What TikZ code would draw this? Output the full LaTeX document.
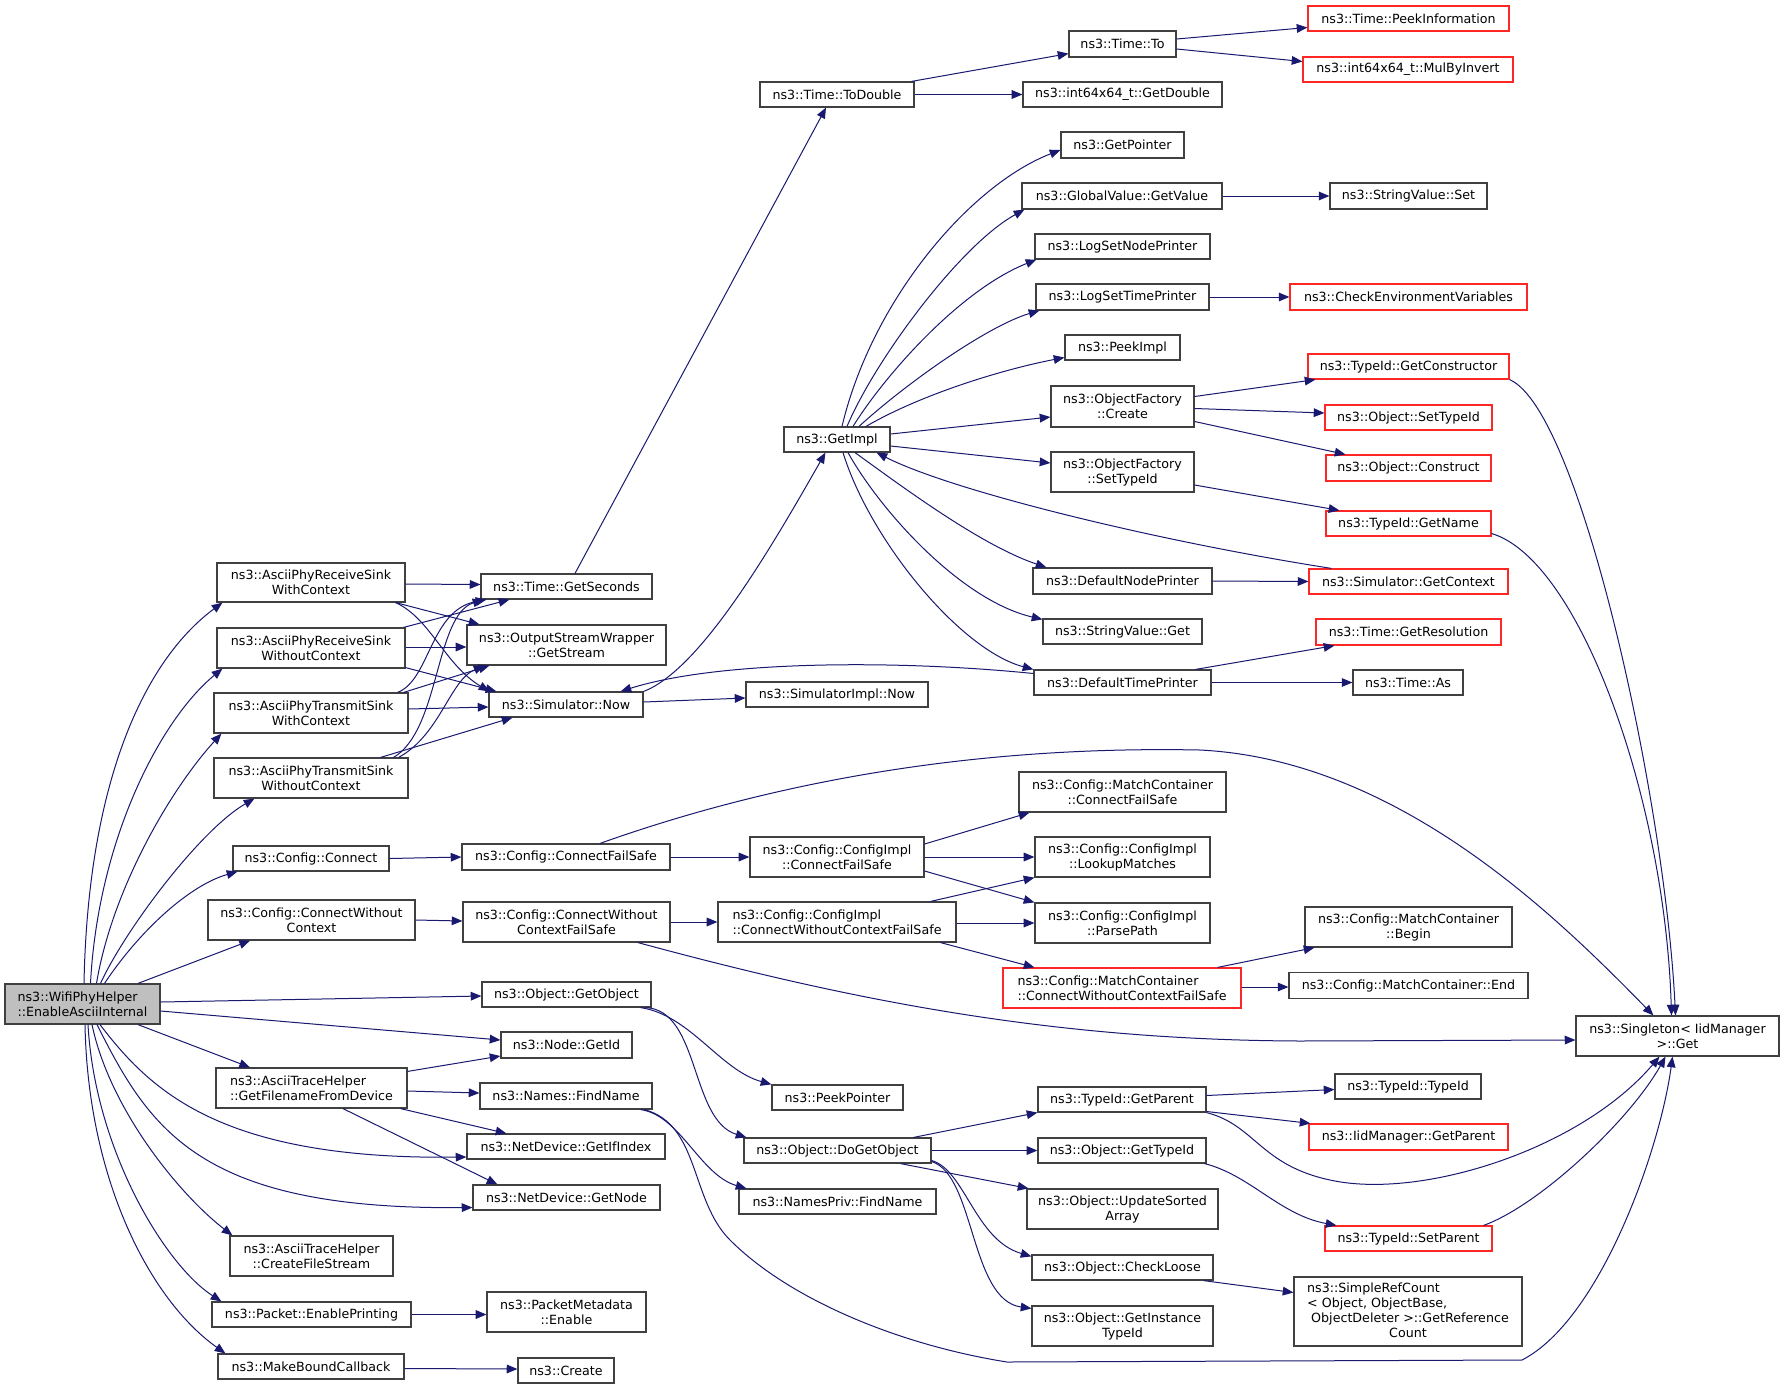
\documentclass[tikz,border=0pt]{standalone}
\usepackage{fontspec}
\setmainfont{DejaVu Sans}
\usetikzlibrary{arrows.meta,calc}
\definecolor{edgec}{HTML}{191970}
\definecolor{nodeb}{HTML}{404040}
\definecolor{rootf}{HTML}{BFBFBF}
\definecolor{redb}{HTML}{FF2626}
\tikzset{
 nbox/.style={draw=nodeb, line width=0.9pt, fill=white, inner sep=0pt, align=center, font=\fontsize{9.5pt}{11.25pt}\selectfont, text=black},
 rbox/.style={draw=redb},
 rootbox/.style={fill=rootf},
 lbox/.style={align=left},
 call/.style={draw=edgec, line width=0.75pt, -{Triangle[length=8pt,width=6.5pt]}},
}
\newcommand\gnode[7][]{\node[nbox,#1,minimum width=#5*0.75pt,minimum height=#6*0.75pt] (#2) at (#3,#4) {#7};}
\begin{document}
\begin{tikzpicture}[x=0.75pt,y=-0.75pt]
\useasboundingbox (0,0) rectangle (1784,1389);
\fill[white] (0,0) rectangle (1784,1389);
% column 1
\gnode[rootbox,lbox]{wifi}{82.5}{1004}{155}{40}{ns3::WifiPhyHelper\\::EnableAsciiInternal}
\gnode{rxwith}{311}{582.5}{188}{39}{ns3::AsciiPhyReceiveSink\\WithContext}
\gnode{rxwo}{311}{648}{188}{40}{ns3::AsciiPhyReceiveSink\\WithoutContext}
\gnode{txwith}{311}{713}{194}{40}{ns3::AsciiPhyTransmitSink\\WithContext}
\gnode{txwo}{311}{778}{194}{40}{ns3::AsciiPhyTransmitSink\\WithoutContext}
\gnode{cconnect}{311}{858.5}{156}{25}{ns3::Config::Connect}
\gnode{cconnectwo}{311.5}{920}{207}{40}{ns3::Config::ConnectWithout\\Context}
\gnode[lbox]{getfilename}{311.5}{1088}{191}{40}{ns3::AsciiTraceHelper\\::GetFilenameFromDevice}
\gnode{createfile}{311.5}{1256}{163}{40}{ns3::AsciiTraceHelper\\::CreateFileStream}
\gnode{enableprint}{311.5}{1314.5}{199}{25}{ns3::Packet::EnablePrinting}
\gnode{makebound}{311}{1366.5}{186}{25}{ns3::MakeBoundCallback}
% column 2
\gnode{getseconds}{566.5}{586.5}{171}{25}{ns3::Time::GetSeconds}
\gnode{getstream}{566.5}{645}{199}{40}{ns3::OutputStreamWrapper\\::GetStream}
\gnode{simnow}{566}{704.5}{154}{25}{ns3::Simulator::Now}
\gnode{connectfs}{566}{857}{208}{26}{ns3::Config::ConnectFailSafe}
\gnode{connectwofs}{566.5}{922}{207}{40}{ns3::Config::ConnectWithout\\ContextFailSafe}
\gnode{getobject}{566.5}{994.5}{169}{25}{ns3::Object::GetObject}
\gnode{nodegetid}{566.5}{1045}{131}{26}{ns3::Node::GetId}
\gnode{namesfind}{566}{1096}{172}{26}{ns3::Names::FindName}
\gnode{getifindex}{566}{1146.5}{198}{25}{ns3::NetDevice::GetIfIndex}
\gnode{getnode}{566.5}{1197.5}{187}{25}{ns3::NetDevice::GetNode}
\gnode{pmenable}{566.5}{1312}{159}{40}{ns3::PacketMetadata\\::Enable}
\gnode{create}{566}{1370.5}{96}{25}{ns3::Create}
% column 3
\gnode{todouble}{837}{94.5}{154}{25}{ns3::Time::ToDouble}
\gnode{getimpl}{837}{439.5}{106}{25}{ns3::GetImpl}
\gnode{simimplnow}{837}{694.5}{182}{25}{ns3::SimulatorImpl::Now}
\gnode{cicfs}{837}{857}{174}{40}{ns3::Config::ConfigImpl\\::ConnectFailSafe}
\gnode[lbox]{cicwofs}{837}{922}{238}{40}{ns3::Config::ConfigImpl\\::ConnectWithoutContextFailSafe}
\gnode{peekpointer}{837.5}{1097.5}{131}{25}{ns3::PeekPointer}
\gnode{dogetobject}{837.5}{1150.5}{187}{25}{ns3::Object::DoGetObject}
\gnode{namesprivfind}{837.5}{1201.5}{197}{25}{ns3::NamesPriv::FindName}
% column 4
\gnode{timeto}{1122.5}{44}{107}{26}{ns3::Time::To}
\gnode{getdouble}{1122.5}{94.5}{199}{25}{ns3::int64x64\_t::GetDouble}
\gnode{getpointer}{1122.5}{145}{123}{26}{ns3::GetPointer}
\gnode{gvgetvalue}{1122}{196}{200}{26}{ns3::GlobalValue::GetValue}
\gnode{logsetnode}{1122.5}{246.5}{175}{25}{ns3::LogSetNodePrinter}
\gnode{logsettime}{1122.5}{297}{173}{26}{ns3::LogSetTimePrinter}
\gnode{peekimpl}{1122.5}{347.5}{115}{25}{ns3::PeekImpl}
\gnode{ofcreate}{1122.5}{406.5}{143}{41}{ns3::ObjectFactory\\::Create}
\gnode{ofsettypeid}{1122.5}{472}{143}{40}{ns3::ObjectFactory\\::SetTypeId}
\gnode{defnodeprinter}{1122.5}{581}{179}{26}{ns3::DefaultNodePrinter}
\gnode{svget}{1122.5}{631.5}{159}{25}{ns3::StringValue::Get}
\gnode{deftimeprinter}{1122.5}{682.5}{177}{25}{ns3::DefaultTimePrinter}
\gnode{mccfs}{1122.5}{792}{207}{40}{ns3::Config::MatchContainer\\::ConnectFailSafe}
\gnode{lookup}{1122.5}{857}{175}{40}{ns3::Config::ConfigImpl\\::LookupMatches}
\gnode{parsepath}{1122.5}{923}{175}{40}{ns3::Config::ConfigImpl\\::ParsePath}
\gnode[rbox,lbox]{mccwofs}{1122}{988}{238}{40}{ns3::Config::MatchContainer\\::ConnectWithoutContextFailSafe}
\gnode{typeidgetparent}{1122}{1099.5}{168}{25}{ns3::TypeId::GetParent}
\gnode{objgettypeid}{1122}{1150.5}{168}{25}{ns3::Object::GetTypeId}
\gnode{updatesorted}{1122.5}{1209}{191}{40}{ns3::Object::UpdateSorted\\Array}
\gnode{checkloose}{1122.5}{1267.5}{181}{25}{ns3::Object::CheckLoose}
\gnode{getinstance}{1122.5}{1326}{181}{40}{ns3::Object::GetInstance\\TypeId}
% column 5
\gnode[rbox]{peekinfo}{1408.5}{18.5}{201}{25}{ns3::Time::PeekInformation}
\gnode[rbox]{mulbyinvert}{1408}{69.5}{210}{25}{ns3::int64x64\_t::MulByInvert}
\gnode{svset}{1408.5}{196}{157}{26}{ns3::StringValue::Set}
\gnode[rbox]{checkenv}{1408.5}{297}{237}{26}{ns3::CheckEnvironmentVariables}
\gnode[rbox]{getconstructor}{1408.5}{366.5}{201}{25}{ns3::TypeId::GetConstructor}
\gnode[rbox]{objsettypeid}{1408.5}{417.5}{167}{25}{ns3::Object::SetTypeId}
\gnode[rbox]{objconstruct}{1408.5}{468}{165}{26}{ns3::Object::Construct}
\gnode[rbox]{getname}{1408.5}{523.5}{165}{25}{ns3::TypeId::GetName}
\gnode[rbox]{getcontext}{1408.5}{581.5}{199}{25}{ns3::Simulator::GetContext}
\gnode[rbox]{getresolution}{1408.5}{632}{185}{26}{ns3::Time::GetResolution}
\gnode{timeas}{1408}{682.5}{110}{25}{ns3::Time::As}
\gnode{mcbegin}{1408.5}{927}{207}{40}{ns3::Config::MatchContainer\\::Begin}
\gnode{mcend}{1408.5}{985.5}{239}{26}{ns3::Config::MatchContainer::End}
\gnode{typeidtypeid}{1408}{1086.5}{146}{25}{ns3::TypeId::TypeId}
\gnode[rbox]{iidgetparent}{1408.5}{1137}{199}{26}{ns3::IidManager::GetParent}
\gnode[rbox]{setparent}{1408.5}{1238.5}{167}{25}{ns3::TypeId::SetParent}
\gnode{simplerefcount}{1408}{1311.5}{228}{69}{\begin{tabular}{@{}l@{}}ns3::SimpleRefCount\\< Object, ObjectBase,\\\ ObjectDeleter >::GetReference\\\multicolumn{1}{@{}c@{}}{Count}\end{tabular}}
% column 6
\gnode{singleton}{1677.5}{1036}{203}{40}{ns3::Singleton< IidManager\\>::Get}
% ---------------- edges from wifi
\draw[call] ($(wifi.north)+(1.5,0)$) .. controls (88,780) and (145,660) .. ($(rxwith.south west)+(6,0)$);
\draw[call] ($(wifi.north)+(8,0)$) .. controls (98,840) and (160,720) .. ($(rxwo.south west)+(6,0)$);
\draw[call] ($(wifi.north)+(14,0)$) .. controls (112,890) and (170,790) .. ($(txwith.south west)+(8,0)$);
\draw[call] ($(wifi.north)+(18,0)$) .. controls (125,930) and (200,830) .. ($(txwo.south west)+(41,0)$);
\draw[call] ($(wifi.north)+(22,0)$) .. controls (140,930) and (190,885) .. ($(cconnect.south west)+(5,0)$);
\draw[call] ($(wifi.north)+(55.5,0)$) -- ($(cconnectwo.south)+(-61.5,0)$);
\draw[call] ($(wifi.east)+(0,-2)$) -- ($(getobject.west)+(0,1.5)$);
\draw[call] ($(wifi.east)+(0,7)$) -- ($(nodegetid.west)+(0,-5)$);
\draw[call] ($(wifi.south)+(55.5,0)$) -- ($(getfilename.north)+(-61.5,0)$);
\draw[call] ($(wifi.south)+(17.5,0)$) .. controls (150,1090) and (220,1160) .. ($(getifindex.west)+(0,10.5)$);
\draw[call] ($(wifi.south)+(14.5,0)$) .. controls (150,1130) and (200,1210) .. ($(getnode.west)+(0,10)$);
\draw[call] ($(wifi.south)+(9.5,0)$) .. controls (110,1110) and (180,1195) .. ($(createfile.north west)+(3,0)$);
\draw[call] ($(wifi.south)+(5.5,0)$) .. controls (95,1150) and (165,1265) .. ($(enableprint.north west)+(10,0)$);
\draw[call] ($(wifi.south)+(2.5,0)$) .. controls (88,1180) and (150,1300) .. ($(makebound.north west)+(8,0)$);
% ---------------- sinks
\draw[call] ($(rxwith.east)+(0,1.5)$) -- ($(getseconds.west)+(0,-2)$);
\draw[call] ($(rxwith.south east)+(-10,0)$) -- ($(getstream.north west)+(13,0)$);
\draw[call] ($(rxwith.south east)+(-10,0)$) .. controls (430,618) and (445,665) .. ($(simnow.north west)+(1,0)$);
\draw[call] ($(rxwo.north east)+(-2,0)$) -- ($(getseconds.south west)+(29,0)$);
\draw[call] ($(rxwo.east)+(0,-1)$) -- ($(getstream.west)+(0,2)$);
\draw[call] ($(rxwo.south east)+(0,-1)$) -- ($(simnow.north west)+(8,0)$);
\draw[call] ($(txwith.north east)+(-11,0)$) .. controls (430,680) and (430,610) .. ($(getseconds.south west)+(6,0)$);
\draw[call] ($(txwith.north east)+(-5,0)$) -- ($(getstream.south west)+(23,0)$);
\draw[call] ($(txwith.east)+(0,-4)$) -- ($(simnow.west)+(0,2.5)$);
\draw[call] ($(txwo.north east)+(-28,0)$) -- ($(simnow.south west)+(24,0)$);
\draw[call] ($(txwo.north east)+(-15,0)$) .. controls (440,730) and (435,615) .. ($(getseconds.south west)+(3,0)$);
\draw[call] ($(txwo.north east)+(-10,0)$) .. controls (440,735) and (450,680) .. ($(getstream.south west)+(18,0)$);
% ---------------- simulator
\draw[call] ($(simnow.east)+(0,-2.5)$) -- ($(simimplnow.west)+(0,3.5)$);
\draw[call] (simnow.north east) .. controls (700,670) and (770,550) .. ($(getimpl.south west)+(42,0)$);
\draw[call] ($(deftimeprinter.west)+(0,-9)$) .. controls (900,660) and (720,660) .. ($(simnow.north east)+(-23,0)$);
\draw[call] ($(getseconds.north)+(8.5,0)$) -- ($(todouble.south)+(-11,0)$);
\draw[call] ($(todouble.north east)+(-3,0)$) -- ($(timeto.south west)+(0,-4)$);
\draw[call] (todouble.east) -- (getdouble.west);
\draw[call] ($(timeto.east)+(0,-5)$) -- ($(peekinfo.west)+(0,9)$);
\draw[call] ($(timeto.east)+(0,5)$) -- ($(mulbyinvert.west)+(0,-8)$);
% ---------------- getimpl
\draw[call] ($(getimpl.north)+(5,0)$) .. controls (872,300) and (970,185) .. ($(getpointer.west)+(0,5)$);
\draw[call] ($(getimpl.north)+(10,0)$) .. controls (875,360) and (960,245) .. ($(gvgetvalue.south west)+(3,0)$);
\draw[call] ($(getimpl.north)+(16,0)$) .. controls (885,375) and (960,290) .. ($(logsetnode.south west)+(2,0)$);
\draw[call] ($(getimpl.north)+(22,0)$) .. controls (910,380) and (990,325) .. ($(logsettime.south west)+(4,0)$);
\draw[call] ($(getimpl.north)+(29,0)$) .. controls (920,395) and (1000,370) .. ($(peekimpl.west)+(0,10)$);
\draw[call] ($(getimpl.east)+(0,-5.5)$) -- ($(ofcreate.west)+(0,10.5)$);
\draw[call] ($(getimpl.east)+(0,6.5)$) -- ($(ofsettypeid.west)+(0,-9)$);
\draw[call] ($(getimpl.south)+(18,0)$) .. controls (900,485) and (980,545) .. ($(defnodeprinter.north west)+(14,0)$);
\draw[call] ($(getimpl.south)+(11,0)$) .. controls (880,510) and (960,600) .. ($(svget.north west)+(0,1)$);
\draw[call] ($(getimpl.south)+(6,0)$) .. controls (870,540) and (960,650) .. (deftimeprinter.north west);
\draw[call] ($(getcontext.north west)+(23,0)$) .. controls (1150,540) and (950,490) .. ($(getimpl.south east)+(-14,0)$);
\draw[call] (defnodeprinter.east) -- (getcontext.west);
\draw[call] ($(deftimeprinter.north east)+(-16,0)$) -- ($(getresolution.south west)+(19,0)$);
\draw[call] (deftimeprinter.east) -- (timeas.west);
\draw[call] (logsettime.east) -- (checkenv.west);
\draw[call] (gvgetvalue.east) -- (svset.west);
\draw[call] ($(ofcreate.east)+(0,-10)$) -- ($(getconstructor.south west)+(8,0)$);
\draw[call] ($(ofcreate.east)+(0,2)$) -- ($(objsettypeid.west)+(0,-4.5)$);
\draw[call] ($(ofcreate.east)+(0,15)$) -- ($(objconstruct.north west)+(20,0)$);
\draw[call] ($(ofsettypeid.east)+(0,13)$) -- ($(getname.north west)+(14,0)$);
\draw[call] (getconstructor.south east) .. controls (1580,410) and (1665,800) .. ($(singleton.north)+(-2,0)$);
\draw[call] ($(getname.east)+(0,10)$) .. controls (1580,560) and (1665,800) .. ($(singleton.north)+(-6,0)$);
% ---------------- config
\draw[call] ($(connectfs.north)+(34,0)$) .. controls (750,790) and (950,745) .. (1200,750) .. controls (1400,760) and (1560,920) .. ($(singleton.north west)+(78,0)$);
\draw[call] ($(connectwofs.south)+(71.5,0)$) .. controls (850,1000) and (1050,1040) .. (1300,1041) -- ($(singleton.west)+(0,4)$);
\draw[call] (cconnect.east) -- (connectfs.west);
\draw[call] (cconnectwo.east) -- ($(connectwofs.west)+(0,-1)$);
\draw[call] (connectfs.east) -- (cicfs.west);
\draw[call] (connectwofs.east) -- (cicwofs.west);
\draw[call] ($(cicfs.east)+(0,-13)$) -- ($(mccfs.south west)+(11,0)$);
\draw[call] (cicfs.east) -- (lookup.west);
\draw[call] ($(cicfs.east)+(0,14)$) -- (parsepath.north west);
\draw[call] ($(cicwofs.north east)+(-26,0)$) -- (lookup.south west);
\draw[call] ($(cicwofs.east)+(0,1)$) -- (parsepath.west);
\draw[call] ($(cicwofs.south east)+(-16,0)$) -- ($(mccwofs.north west)+(32,0)$);
\draw[call] ($(mccwofs.north east)+(-24,0)$) -- ($(mcbegin.south west)+(10,0)$);
\draw[call] ($(mccwofs.east)+(0,-1)$) -- ($(mcend.west)+(0,1.5)$);
% ---------------- objects
\draw[call] ($(getobject.south east)+(-11,0)$) .. controls (690,1015) and (720,1070) .. (peekpointer.north west);
\draw[call] ($(getobject.south east)+(-6,0)$) .. controls (700,1010) and (690,1120) .. ($(dogetobject.north west)+(3,0)$);
\draw[call] ($(getfilename.north east)+(0,4)$) -- ($(nodegetid.west)+(0,11)$);
\draw[call] ($(getfilename.east)+(0,3)$) -- ($(namesfind.west)+(0,-3)$);
\draw[call] ($(getfilename.south east)+(-7,0)$) -- ($(getifindex.north west)+(40,0)$);
\draw[call] ($(getfilename.south)+(31.5,0)$) -- ($(getnode.north west)+(25,0)$);
\draw[call] ($(namesfind.south east)+(-12,0)$) .. controls (680,1115) and (700,1175) .. ($(namesprivfind.north west)+(8,0)$);
\draw[call] ($(namesfind.south east)+(-8,0)$) .. controls (700,1125) and (690,1200) .. (730,1240) .. controls (790,1300) and (900,1345) .. (1007,1362) -- (1522,1360) .. controls (1600,1320) and (1660,1150) .. ($(singleton.south)+(-5,0)$);
\draw[call] (enableprint.east) -- ($(pmenable.west)+(0,2.5)$);
\draw[call] ($(makebound.east)+(0,2)$) -- ($(create.west)+(0,-1.5)$);
\draw[call] ($(dogetobject.north east)+(-18,0)$) -- (typeidgetparent.south west);
\draw[call] (dogetobject.east) -- (objgettypeid.west);
\draw[call] ($(dogetobject.south east)+(-31,0)$) -- ($(updatesorted.north west)+(2,0)$);
\draw[call] ($(dogetobject.east)+(0,10)$) .. controls (965,1170) and (975,1240) .. ($(checkloose.north west)+(0,2)$);
\draw[call] ($(dogetobject.east)+(0,11)$) .. controls (975,1175) and (970,1300) .. ($(getinstance.north west)+(0,3)$);
\draw[call] ($(objgettypeid.south east)+(-2,0)$) .. controls (1250,1175) and (1280,1215) .. ($(setparent.north west)+(12,0)$);
\draw[call] ($(typeidgetparent.east)+(0,-4)$) -- ($(typeidtypeid.west)+(0,3)$);
\draw[call] ($(typeidgetparent.east)+(0,12)$) -- ($(iidgetparent.north west)+(2,0)$);
\draw[call] (typeidgetparent.south east) .. controls (1255,1125) and (1260,1165) .. (1330,1180) .. controls (1420,1200) and (1580,1150) .. ($(singleton.south)+(-18,0)$);
\draw[call] ($(setparent.north east)+(-9,0)$) .. controls (1540,1205) and (1630,1120) .. ($(singleton.south)+(-12,0)$);
\draw[call] ($(checkloose.south east)+(-10,0)$) -- ($(simplerefcount.west)+(0,-19)$);
\end{tikzpicture}
\end{document}
